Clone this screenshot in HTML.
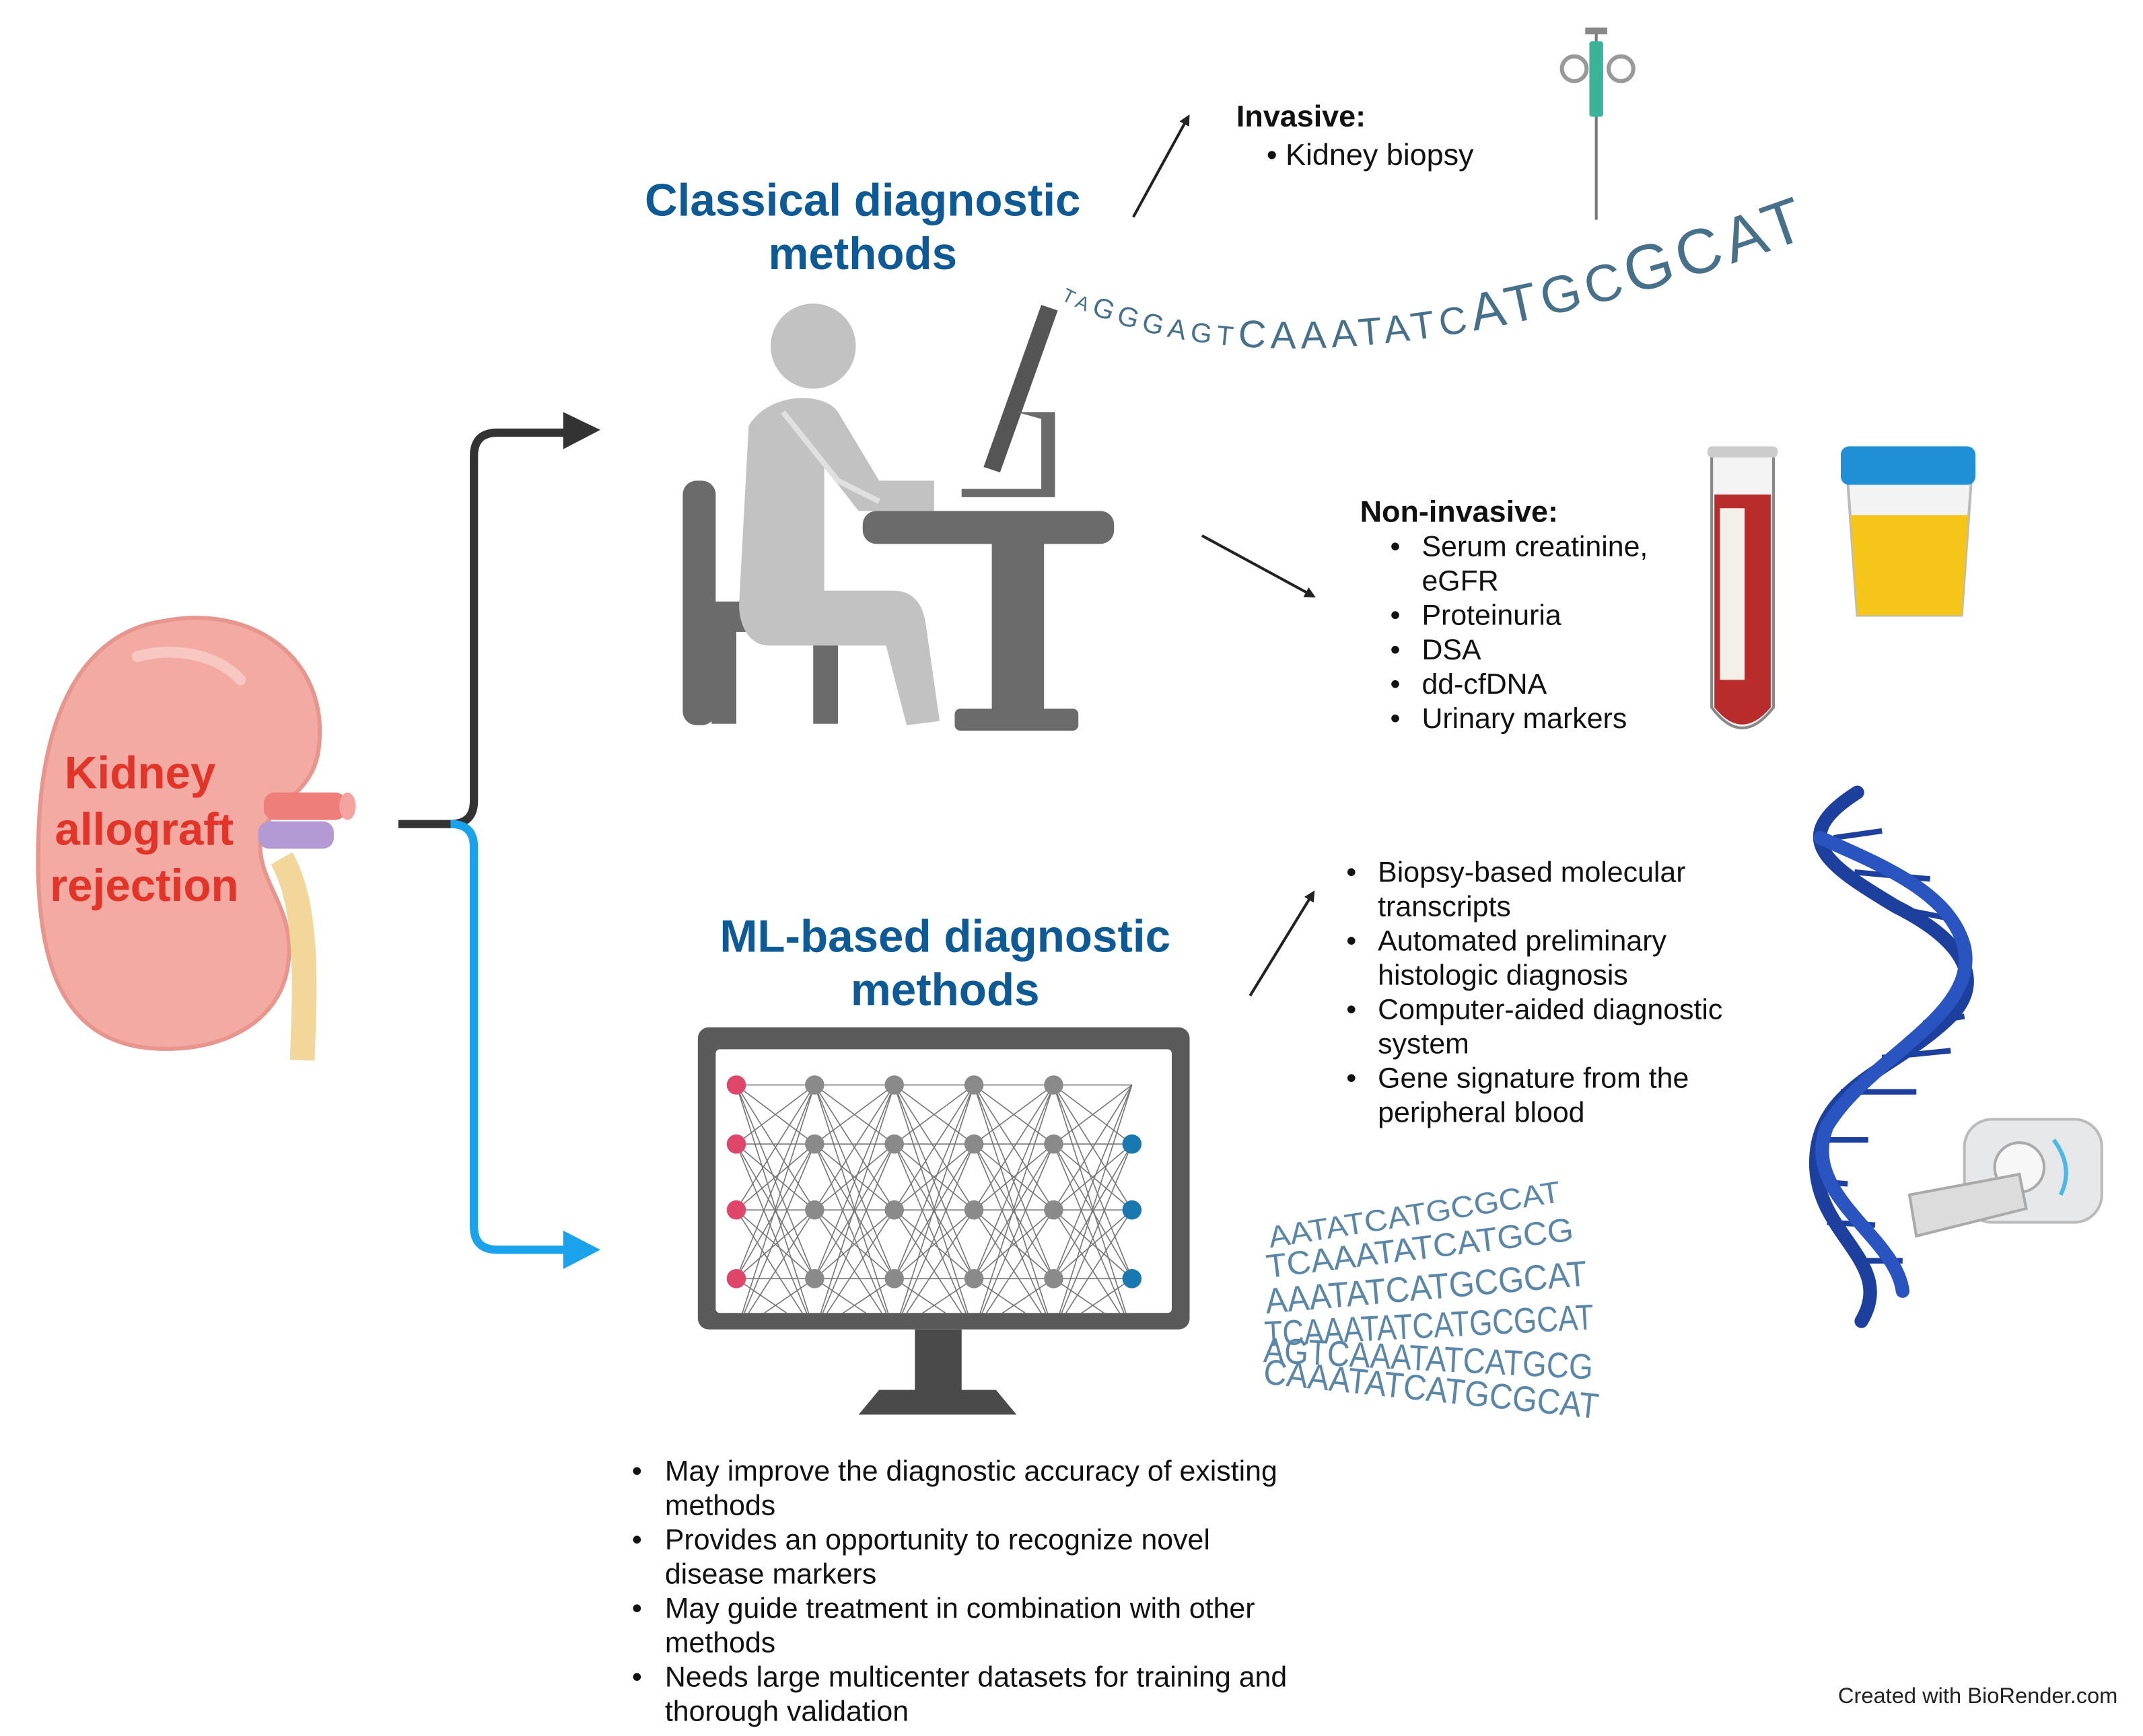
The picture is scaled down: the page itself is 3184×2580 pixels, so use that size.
<!DOCTYPE html>
<html><head><meta charset="utf-8"><style>
html,body{margin:0;padding:0;background:#fff;}
svg{display:block;}
text{font-family:"Liberation Sans",sans-serif;}
</style></head><body>
<svg width="3184" height="2580" viewBox="0 0 1560 1264" xmlns="http://www.w3.org/2000/svg">
<rect width="1560" height="1264" fill="#fff"/>
<defs>
<marker id="ah" markerWidth="8" markerHeight="8" refX="6" refY="4" orient="auto" markerUnits="userSpaceOnUse"><path d="M0,0 L8,4 L0,8 z" fill="#222"/></marker>
</defs>

<!-- Kidney -->
<path d="M120,452 C185,440 240,480 232,545 C228,580 195,585 190,610 C185,640 215,660 210,700 C205,750 150,770 100,762 C45,752 25,700 28,610 C30,520 60,460 120,452 Z" fill="#f2aaa2" stroke="#e8968d" stroke-width="3"/>
<path d="M100,478 C130,470 160,478 175,495" stroke="#f8c7c1" stroke-width="8" fill="none" stroke-linecap="round"/>
<path d="M205,625 C225,660 222,720 220,772" stroke="#f3d79a" stroke-width="18" fill="none"/>
<rect x="192" y="577" width="60" height="20" rx="8" fill="#ef7d7a"/>
<ellipse cx="253" cy="587" rx="6" ry="10" fill="#f5a3a0"/>
<rect x="188" y="598" width="55" height="20" rx="8" fill="#b49ad4"/>
<text x="102" y="574" font-size="33" font-weight="bold" fill="#e3342a" text-anchor="middle">Kidney</text>
<text x="105" y="615" font-size="33" font-weight="bold" fill="#e3342a" text-anchor="middle">allograft</text>
<text x="105" y="656" font-size="33" font-weight="bold" fill="#e3342a" text-anchor="middle">rejection</text>

<!-- Bracket -->
<path d="M290,600 L328,600 Q345,600 345,583 L345,332 Q345,315 362,315 L412,315" stroke="#333" stroke-width="6" fill="none"/>
<path d="M410,300 L437,313 L410,327 Z" fill="#333"/>
<path d="M328,600 Q345,600 345,617 L345,893 Q345,910 362,910 L412,910" stroke="#1aa3ec" stroke-width="6" fill="none"/>
<path d="M410,896 L437,910 L410,924 Z" fill="#1aa3ec"/>

<text x="628" y="157" font-size="33" font-weight="bold" fill="#0d5a96" text-anchor="middle">Classical diagnostic</text>
<text x="628" y="196" font-size="33" font-weight="bold" fill="#0d5a96" text-anchor="middle">methods</text>

<!-- Person at desk -->
<rect x="497" y="350" width="24" height="178" rx="10" fill="#6b6b6b"/>
<rect x="505" y="438" width="112" height="22" rx="8" fill="#6b6b6b"/>
<rect x="518" y="455" width="18" height="72" fill="#6b6b6b"/>
<rect x="592" y="455" width="18" height="72" fill="#6b6b6b"/>
<circle cx="592" cy="252" r="31" fill="#c2c2c2"/>
<path d="M545,310 C560,285 600,285 610,300 L640,350 L680,350 L680,372 L625,372 L600,340 L600,430 L650,430 C665,430 672,440 674,455 L684,525 L660,528 L645,470 L560,470 C545,470 538,455 538,440 Z" fill="#c2c2c2"/>
<path d="M570,300 L610,350 L640,365" stroke="#e0e0e0" stroke-width="4" fill="none"/>
<rect x="628" y="372" width="183" height="24" rx="10" fill="#6b6b6b"/>
<rect x="722" y="395" width="38" height="125" fill="#6b6b6b"/>
<rect x="695" y="516" width="90" height="16" rx="4" fill="#6b6b6b"/>
<path d="M716,340 L758,222 L770,226 L728,344 Z" fill="#555"/>
<path d="M740,300 L768,300 L768,362 L700,362 L700,356 L758,356 L758,305 Z" fill="#6b6b6b"/>

<line x1="825" y1="158" x2="865" y2="85" stroke="#222" stroke-width="2" marker-end="url(#ah)"/>
<line x1="875" y1="390" x2="956" y2="434" stroke="#222" stroke-width="2" marker-end="url(#ah)"/>

<text x="900" y="92" font-size="22" font-weight="bold" fill="#111">Invasive:</text>
<text x="922" y="120" font-size="22" fill="#111">• Kidney biopsy</text>

<line x1="1162" y1="20" x2="1162" y2="160" stroke="#777" stroke-width="2"/>
<rect x="1157" y="30" width="10" height="55" rx="2" fill="#3bb39a"/>
<circle cx="1146" cy="50" r="9" fill="none" stroke="#999" stroke-width="3"/>
<circle cx="1180" cy="50" r="9" fill="none" stroke="#999" stroke-width="3"/>
<rect x="1154" y="20" width="16" height="5" fill="#888"/>

<path id="arc1" d="M772,218 C900,285 1100,250 1310,175" fill="none"/>
<text fill="#47708a" textLength="560" lengthAdjust="spacing"><textPath href="#arc1" textLength="560" lengthAdjust="spacing"><tspan font-size="14">TA</tspan><tspan font-size="20">GGGAGT</tspan><tspan font-size="28">CAAATATC</tspan><tspan font-size="38">ATGC</tspan><tspan font-size="46">GCAT</tspan></textPath></text>

<text x="990" y="380" font-size="22" font-weight="bold" fill="#111">Non-invasive:</text>
<g font-size="21" fill="#111">
<text x="1012" y="405">•</text><text x="1035" y="405">Serum creatinine,</text>
<text x="1035" y="430">eGFR</text>
<text x="1012" y="455">•</text><text x="1035" y="455">Proteinuria</text>
<text x="1012" y="480">•</text><text x="1035" y="480">DSA</text>
<text x="1012" y="505">•</text><text x="1035" y="505">dd-cfDNA</text>
<text x="1012" y="530">•</text><text x="1035" y="530">Urinary markers</text>
</g>

<path d="M1246,330 L1291,330 L1291,515 Q1268,545 1246,515 Z" fill="#f4f4f4" stroke="#888" stroke-width="2"/>
<path d="M1248,360 L1289,360 L1289,515 Q1268,540 1248,515 Z" fill="#b82c2c"/>
<rect x="1252" y="370" width="18" height="125" fill="#f3f0ea"/>
<rect x="1243" y="325" width="51" height="8" rx="3" fill="#ccc"/>
<path d="M1345,350 L1435,350 L1428,448 L1352,448 Z" fill="#f3f3f3" stroke="#bbb" stroke-width="2"/>
<path d="M1347,375 L1433,375 L1428,448 L1352,448 Z" fill="#f5c518"/>
<rect x="1340" y="325" width="98" height="28" rx="6" fill="#1f8fd6"/>

<text x="688" y="693" font-size="33" font-weight="bold" fill="#0d5a96" text-anchor="middle">ML-based diagnostic</text>
<text x="688" y="732" font-size="33" font-weight="bold" fill="#0d5a96" text-anchor="middle">methods</text>

<rect x="508" y="748" width="358" height="220" rx="8" fill="#5a5a5a"/>
<rect x="521" y="764" width="332" height="192" rx="3" fill="#fff"/>
<rect x="666" y="968" width="34" height="46" fill="#4a4a4a"/>
<path d="M625,1030 L640,1012 L725,1012 L740,1030 Z" fill="#4a4a4a"/>
<svg x="521" y="764" width="332" height="192" overflow="hidden"><g id="net" transform="translate(-521,-764)"></g></svg>

<line x1="910" y1="725" x2="956" y2="650" stroke="#222" stroke-width="2" marker-end="url(#ah)"/>

<g font-size="21" fill="#111">
<text x="980" y="642">•</text><text x="1003" y="642">Biopsy-based molecular</text>
<text x="1003" y="667">transcripts</text>
<text x="980" y="692">•</text><text x="1003" y="692">Automated preliminary</text>
<text x="1003" y="717">histologic diagnosis</text>
<text x="980" y="742">•</text><text x="1003" y="742">Computer-aided diagnostic</text>
<text x="1003" y="767">system</text>
<text x="980" y="792">•</text><text x="1003" y="792">Gene signature from the</text>
<text x="1003" y="817">peripheral blood</text>
</g>

<!-- DNA helix -->
<g stroke="#1d3f9e" stroke-width="4">
<line x1="1335" y1="610" x2="1370" y2="605"/><line x1="1350" y1="635" x2="1405" y2="640"/><line x1="1375" y1="660" x2="1425" y2="670"/>
<line x1="1400" y1="745" x2="1430" y2="740"/><line x1="1370" y1="770" x2="1420" y2="765"/><line x1="1340" y1="795" x2="1395" y2="795"/>
<line x1="1320" y1="830" x2="1360" y2="830"/><line x1="1320" y1="860" x2="1345" y2="862"/><line x1="1330" y1="890" x2="1365" y2="892"/><line x1="1350" y1="918" x2="1385" y2="918"/>
</g>
<g fill="none" stroke-width="10" stroke-linecap="round">
<path d="M1352,577 C1300,610 1330,630 1380,660 C1440,690 1440,720 1420,740 C1380,780 1320,790 1322,850 C1324,900 1380,920 1355,962" stroke="#1d3f9e"/>
<path d="M1325,610 C1370,630 1420,650 1430,690 C1440,740 1360,770 1330,820 C1310,870 1380,900 1385,940" stroke="#2a55c0"/>
</g>

<!-- MRI -->
<rect x="1430" y="815" width="100" height="75" rx="20" fill="#e6e8ea" stroke="#bbb" stroke-width="2"/>
<circle cx="1470" cy="850" r="18" fill="#f7f7f7" stroke="#aaa" stroke-width="2"/>
<path d="M1390,870 L1470,855 L1475,880 L1395,900 Z" fill="#dcdcdc" stroke="#aaa" stroke-width="2"/>
<path d="M1495,830 Q1510,850 1500,870" stroke="#4cb8e8" stroke-width="3" fill="none"/>

<!-- DNA text block -->
<g fill="#5a86a8">
<text x="920" y="890" font-size="22" textLength="215" lengthAdjust="spacingAndGlyphs" transform="rotate(-9 1040 870)">AATATCATGCGCAT</text>
<text x="920" y="916" font-size="24" textLength="225" lengthAdjust="spacingAndGlyphs" transform="rotate(-7 1040 900)">TCAAATATCATGCG</text>
<text x="920" y="946" font-size="26" textLength="235" lengthAdjust="spacingAndGlyphs" transform="rotate(-5 1040 930)">AAATATCATGCGCAT</text>
<text x="920" y="974" font-size="26" textLength="240" lengthAdjust="spacingAndGlyphs" transform="rotate(-3 1040 960)">TCAAATATCATGCGCAT</text>
<text x="920" y="998" font-size="26" textLength="240" lengthAdjust="spacingAndGlyphs" transform="rotate(3 1040 985)">AGTCAAATATCATGCG</text>
<text x="920" y="1020" font-size="26" textLength="245" lengthAdjust="spacingAndGlyphs" transform="rotate(6 1040 1005)">CAAATATCATGCGCAT</text>
</g>

<g font-size="21" fill="#111">
<text x="460" y="1078">•</text><text x="484" y="1078">May improve the diagnostic accuracy of existing</text>
<text x="484" y="1103">methods</text>
<text x="460" y="1128">•</text><text x="484" y="1128">Provides an opportunity to recognize novel</text>
<text x="484" y="1153">disease markers</text>
<text x="460" y="1178">•</text><text x="484" y="1178">May guide treatment in combination with other</text>
<text x="484" y="1203">methods</text>
<text x="460" y="1228">•</text><text x="484" y="1228">Needs large multicenter datasets for training and</text>
<text x="484" y="1253">thorough validation</text>
</g>
<text x="1338" y="1240" font-size="16" fill="#222">Created with BioRender.com</text>
</svg>
<script>
(function(){
var NS='http://www.w3.org/2000/svg';
var g=document.getElementById('net');
var xs=[536,593,651,709,767,824],ys=[790,833,881,931,970];
function el(n,a){var e=document.createElementNS(NS,n);for(var k in a)e.setAttribute(k,a[k]);g.appendChild(e);}
for(var i=0;i<5;i++)for(var a=0;a<ys.length;a++)for(var b=0;b<ys.length;b++){
 el('line',{x1:xs[i],y1:ys[a],x2:xs[i+1],y2:ys[b],stroke:'#777','stroke-width':0.8});}
for(var i=0;i<6;i++)for(var a=0;a<4;a++){
 if(i==5&&a==0)continue;
 var c=i==0?'#e0456a':(i==5?'#1a78b0':'#8a8a8a');
 el('circle',{cx:xs[i],cy:ys[a],r:7,fill:c});}
for(var i=1;i<5;i++)el('rect',{x:xs[i]-6,y:963,width:12,height:6,fill:'#8a8a8a'});
})();
</script>
</body></html>
